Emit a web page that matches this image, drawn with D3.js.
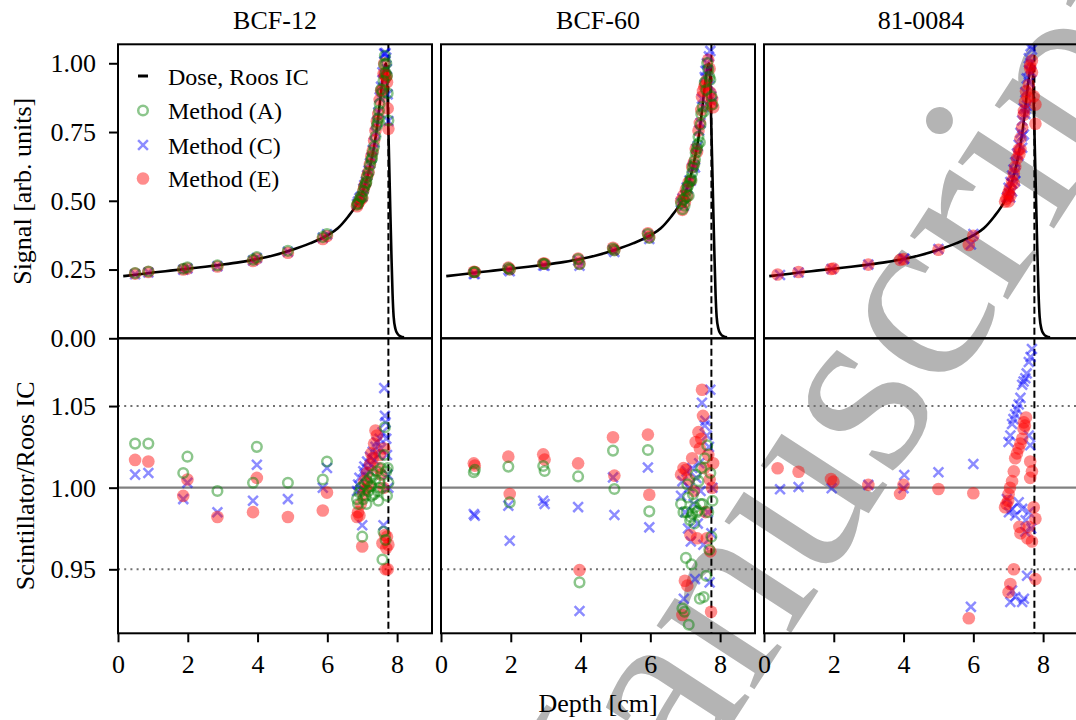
<!DOCTYPE html>
<html><head><meta charset="utf-8">
<script src="https://cdn.jsdelivr.net/npm/d3@7"></script>
<style>body{margin:0;background:#fff}svg{display:block}text{font-family:"Liberation Serif","Times New Roman",serif}</style>
</head><body><svg id="c" width="1076" height="720"></svg>
<script>
// ---------------- data ----------------
const panelTitles = ["BCF-12", "BCF-60", "81-0084"];
const legendLabels = ["Dose, Roos IC", "Method (A)", "Method (C)", "Method (E)"];
const xTicks = [0, 2, 4, 6, 8];
const topYTicks = [0, 0.25, 0.5, 0.75, 1.0];
const botYTicks = [0.95, 1.00, 1.05];
const rangeDepth = 7.75;
const xLabel = "Depth [cm]";
const topYLabel = "Signal [arb. units]";
const botYLabel = "Scintillator/Roos IC";

const doseDepth = [0.15,0.5,1.0,1.5,2.0,2.5,3.0,3.5,4.0,4.5,5.0,5.5,6.0,6.3,6.6,6.8,6.9,7.0,7.1,7.2,7.3,7.4,7.45,7.5,7.55,7.6,7.65,7.68,7.70,7.72,7.75,7.78,7.81,7.84,7.87,7.90,7.95,8.02,8.10,8.20];
const doseSignal = [0.226,0.231,0.239,0.246,0.253,0.260,0.268,0.277,0.288,0.303,0.322,0.345,0.374,0.400,0.443,0.478,0.500,0.528,0.565,0.612,0.670,0.745,0.795,0.850,0.905,0.955,0.990,1.000,0.980,0.910,0.760,0.600,0.440,0.290,0.160,0.080,0.035,0.015,0.007,0.004];

// [depth, signal, ratio]
const bcf12_A = [[0.49,0.237,1.027],[0.87,0.243,1.027],[1.87,0.253,1.009],[1.99,0.258,1.019],[2.85,0.265,0.998],[3.87,0.286,1.003],[3.98,0.295,1.025],[4.87,0.318,1.003],[5.87,0.368,1.005],[5.99,0.379,1.016],
[6.85,0.486,0.993],[6.88,0.491,0.990],[6.92,0.504,0.997],[6.96,0.516,1.000],[7.00,0.512,0.970],[7.03,0.535,0.993],[7.06,0.551,1.002],[7.10,0.562,0.995],[7.12,0.568,0.990],[7.14,0.586,1.004],[7.18,0.602,0.998],[7.22,0.628,1.006],[7.26,0.648,1.001],[7.28,0.655,0.995],[7.30,0.675,1.008],[7.34,0.697,0.996],[7.38,0.734,1.005],[7.42,0.773,1.010],[7.44,0.783,0.998],[7.46,0.800,0.992],[7.48,0.828,1.000],[7.50,0.853,1.003],[7.54,0.905,1.012],[7.58,0.894,0.956],[7.61,0.936,0.973],[7.63,0.996,1.020],[7.65,1.027,1.037],[7.67,0.965,0.968],[7.69,1.000,1.010],[7.71,0.955,0.995],[7.73,0.891,1.012],[7.75,0.792,1.003]];
const bcf12_C = [[0.49,0.233,1.008],[0.87,0.239,1.009],[1.87,0.249,0.993],[1.99,0.254,1.003],[2.85,0.262,0.985],[3.87,0.283,0.992],[3.98,0.292,1.014],[4.87,0.315,0.993],[5.87,0.366,1.000],[5.99,0.378,1.012],
[6.85,0.488,0.998],[6.88,0.497,1.002],[6.92,0.509,1.006],[6.96,0.515,0.999],[7.00,0.516,0.977],[7.03,0.544,1.010],[7.06,0.557,1.013],[7.10,0.569,1.007],[7.14,0.593,1.016],[7.18,0.610,1.011],[7.22,0.636,1.019],[7.26,0.656,1.014],[7.30,0.685,1.022],[7.34,0.712,1.017],[7.38,0.748,1.025],[7.42,0.786,1.028],[7.46,0.822,1.020],[7.50,0.876,1.030],[7.54,0.915,1.024],[7.58,0.967,1.034],[7.61,0.940,0.977],[7.63,1.036,1.061],[7.65,1.034,1.044],[7.67,1.037,1.040],[7.69,1.020,1.030],[7.71,0.979,1.020],[7.73,0.887,1.008],[7.75,0.790,1.000]];
const bcf12_E = [[0.49,0.235,1.017],[0.87,0.241,1.016],[1.87,0.250,0.995],[1.99,0.254,1.005],[2.85,0.261,0.982],[3.87,0.281,0.985],[3.98,0.290,1.006],[4.87,0.311,0.982],[5.87,0.361,0.986],[5.99,0.372,0.997],
[6.85,0.480,0.982],[6.88,0.489,0.985],[6.92,0.497,0.983],[6.96,0.511,0.990],[7.00,0.509,0.964],[7.03,0.537,0.996],[7.06,0.552,1.004],[7.10,0.564,0.999],[7.14,0.589,1.009],[7.18,0.604,1.002],[7.22,0.633,1.014],[7.26,0.661,1.021],[7.30,0.682,1.018],[7.34,0.719,1.027],[7.38,0.756,1.035],[7.42,0.789,1.032],[7.46,0.816,1.012],[7.50,0.867,1.020],[7.54,0.901,1.008],[7.58,0.903,0.966],[7.61,0.962,1.000],[7.63,0.999,1.024],[7.65,0.961,0.971],[7.67,0.947,0.950],[7.69,0.953,0.963],[7.71,0.931,0.970],[7.73,0.836,0.950],[7.75,0.762,0.965]];

const bcf60_A = [[0.94,0.240,1.0095],[0.97,0.241,1.011],[1.93,0.255,1.0129],[1.97,0.250,0.991],[2.93,0.271,1.0133],[2.97,0.270,1.0102],[3.93,0.288,1.0069],[3.97,0.269,0.942],[4.93,0.326,1.0227],[4.97,0.319,0.9992],[5.93,0.379,1.0231],[5.97,0.365,0.9855],
[6.88,0.491,0.990],[6.92,0.469,0.926],[6.95,0.505,0.985],[6.98,0.482,0.924],[7.02,0.512,0.957],[7.04,0.535,0.985],[7.06,0.551,1.002],[7.08,0.555,0.994],[7.10,0.518,0.916],[7.14,0.572,0.980],[7.16,0.582,0.982],[7.18,0.575,0.953],[7.20,0.602,0.984],[7.22,0.622,0.996],[7.26,0.633,0.978],[7.28,0.650,0.988],[7.30,0.675,1.008],[7.34,0.690,0.985],[7.36,0.705,0.986],[7.38,0.733,1.004],[7.42,0.713,0.932],[7.44,0.777,0.990],[7.46,0.816,1.012],[7.50,0.842,0.990],[7.53,0.824,0.933],[7.56,0.931,1.018],[7.60,0.903,0.946],[7.63,1.001,1.026],[7.66,0.978,0.985],[7.69,0.952,0.962],[7.72,0.940,1.009],[7.75,0.880,0.970],[7.78,0.850,0.992]];
const bcf60_C = [[0.94,0.234,0.9838],[0.97,0.234,0.9828],[1.93,0.249,0.989],[1.97,0.244,0.9675],[2.93,0.265,0.992],[2.97,0.264,0.990],[3.93,0.283,0.9881],[3.97,0.264,0.9245],[4.93,0.321,1.0063],[4.97,0.314,0.9833],[5.93,0.375,1.0124],[5.97,0.361,0.9757],
[6.88,0.494,0.995],[6.92,0.508,1.004],[6.96,0.481,0.932],[7.00,0.520,0.985],[7.04,0.548,1.010],[7.08,0.544,0.975],[7.12,0.574,1.000],[7.16,0.573,0.967],[7.20,0.619,1.012],[7.24,0.629,0.990],[7.28,0.621,0.944],[7.32,0.689,1.006],[7.36,0.699,0.978],[7.40,0.756,1.015],[7.44,0.783,0.998],[7.48,0.871,1.052],[7.52,0.841,0.965],[7.56,0.950,1.038],[7.58,0.973,1.041],[7.62,1.000,1.032],[7.65,0.975,0.985],[7.68,1.025,1.025],[7.70,0.918,0.942],[7.72,1.045,1.060],[7.75,0.880,0.972],[7.78,0.860,1.000]];
const bcf60_E = [[0.94,0.242,1.0149],[0.97,0.241,1.0135],[1.93,0.257,1.019],[1.97,0.251,0.9961],[2.93,0.272,1.0204],[2.97,0.272,1.0172],[3.93,0.290,1.0149],[3.97,0.272,0.9495],[4.93,0.329,1.0309],[4.97,0.322,1.0074],[5.93,0.382,1.0325],[5.97,0.368,0.9957],
[6.88,0.500,1.008],[6.92,0.467,0.922],[6.95,0.519,1.012],[6.99,0.495,0.943],[7.02,0.541,1.011],[7.06,0.517,0.940],[7.10,0.568,1.005],[7.15,0.572,0.971],[7.20,0.623,1.018],[7.25,0.640,0.998],[7.30,0.689,1.028],[7.34,0.678,0.969],[7.38,0.755,1.034],[7.42,0.783,1.024],[7.46,0.830,1.030],[7.48,0.878,1.060],[7.51,0.899,1.044],[7.55,0.916,1.012],[7.58,0.921,0.985],[7.62,0.939,0.969],[7.66,1.013,1.020],[7.70,0.980,1.005],[7.72,0.894,0.961],[7.74,0.850,0.924],[7.77,0.870,1.000],[7.80,0.840,1.015]];

const o84_C = [[0.46,0.230,0.999],[0.99,0.239,1.0004],[1.94,0.252,0.9996],[2.99,0.268,1.0017],[4.02,0.290,1.0078],[4.00,0.288,0.9996],[5.00,0.325,1.0094],[6.00,0.379,1.0145],[5.93,0.341,0.927],
[6.96,0.512,0.993],[7.01,0.547,1.028],[7.02,0.527,0.985],[7.06,0.568,1.032],[7.06,0.512,0.930],[7.11,0.592,1.039],[7.11,0.563,0.987],[7.11,0.534,0.937],[7.15,0.614,1.042],[7.20,0.640,1.045],[7.20,0.602,0.983],[7.20,0.571,0.933],[7.25,0.672,1.048],[7.30,0.704,1.051],[7.30,0.664,0.991],[7.35,0.747,1.055],[7.40,0.792,1.063],[7.40,0.735,0.987],[7.40,0.693,0.930],[7.44,0.836,1.065],[7.45,0.741,0.932],[7.49,0.895,1.067],[7.49,0.816,0.973],[7.50,0.833,0.980],[7.53,0.945,1.070],[7.54,0.846,0.946],[7.59,1.018,1.077],[7.59,0.975,1.032],[7.59,0.931,0.985],[7.63,1.001,1.026],[7.64,1.062,1.080],[7.66,0.968,0.975],[7.68,1.050,1.085]];
const o84_E = [[0.39,0.232,1.0119],[0.99,0.241,1.0098],[1.92,0.252,1.0053],[1.99,0.254,1.0037],[2.99,0.268,1.0017],[4.00,0.288,1.0017],[3.90,0.285,0.9962],[5.00,0.322,0.9992],[6.00,0.373,0.9966],[5.87,0.339,0.920],
[6.91,0.497,0.988],[6.95,0.508,0.990],[7.00,0.524,0.992],[7.01,0.530,0.996],[7.01,0.498,0.936],[7.05,0.547,1.000],[7.06,0.518,0.941],[7.11,0.572,1.004],[7.16,0.599,1.010],[7.16,0.563,0.950],[7.20,0.623,1.018],[7.25,0.654,1.021],[7.30,0.686,1.024],[7.32,0.669,0.976],[7.35,0.727,1.027],[7.35,0.688,0.972],[7.40,0.767,1.030],[7.44,0.813,1.036],[7.45,0.827,1.040],[7.48,0.859,1.038],[7.51,0.898,1.043],[7.55,0.877,0.969],[7.59,0.922,0.976],[7.63,0.992,1.016],[7.63,0.982,1.006],[7.68,1.010,1.010],[7.68,0.967,0.967],[7.73,0.880,0.988],[7.78,0.780,0.981],[7.78,0.850,0.944]];

// ---------------- layout ----------------
const svg = d3.select("#c");
const defs = svg.append("defs");
const panelsX = [118, 441, 764], pw = 314;
const topY = [44.3, 338.3], botY = [338.3, 633.3];
const xDomain = [0, 9.0];
const yT = d3.scaleLinear().domain([0, 1.069]).range([topY[1], topY[0]]);
const yB = d3.scaleLinear().domain([0.9108, 1.0915]).range([botY[1], botY[0]]);
const FONT = 26;
const RA = 4.8, RE = 6.3, XH = 4.9, SW = 2.5, OP = 0.45;
const XPATH = `M${-XH},${-XH}L${XH},${XH}M${-XH},${XH}L${XH},${-XH}`;
const drawOrder = ["C", "E", "A"];

// watermark (behind everything)
svg.append("text").attr("transform", "translate(1197,8) rotate(-57)")
  .attr("text-anchor", "end").attr("font-size", 254).attr("fill", "#b4b4b4")
  .text("Accepted Manuscript");

const detectors = [
  {title: panelTitles[0], A: bcf12_A, C: bcf12_C, E: bcf12_E},
  {title: panelTitles[1], A: bcf60_A, C: bcf60_C, E: bcf60_E},
  {title: panelTitles[2], A: null, C: o84_C, E: o84_E}
];

function drawMarkers(g, data, kind, x, yf) {
  if (!data) return;
  if (kind === "A") {
    g.append("g").selectAll("circle").data(data).join("circle")
      .attr("cx", d => x(d[0])).attr("cy", yf).attr("r", RA)
      .attr("fill", "none").attr("stroke", "#008000").attr("stroke-width", SW).attr("stroke-opacity", OP);
  } else if (kind === "C") {
    g.append("g").selectAll("path").data(data).join("path")
      .attr("transform", d => `translate(${x(d[0])},${yf(d)})`)
      .attr("d", XPATH)
      .attr("fill", "none").attr("stroke", "#0000ff").attr("stroke-width", SW).attr("stroke-opacity", OP);
  } else {
    g.append("g").selectAll("circle").data(data).join("circle")
      .attr("cx", d => x(d[0])).attr("cy", yf).attr("r", RE)
      .attr("fill", "#ff0000").attr("fill-opacity", OP);
  }
}

function clipGroup(id, px, yr) {
  defs.append("clipPath").attr("id", id).append("rect")
    .attr("x", px).attr("y", yr[0]).attr("width", pw).attr("height", yr[1] - yr[0]);
  return svg.append("g").attr("clip-path", `url(#${id})`);
}

function styleAxis(g) {
  g.select(".domain").remove();
  g.selectAll(".tick line").attr("stroke", "#000").attr("stroke-width", 2);
  g.selectAll(".tick text").attr("font-size", FONT).attr("fill", "#000")
    .attr("font-family", '"Liberation Serif","Times New Roman",serif');
}

detectors.forEach((det, i) => {
  const px = panelsX[i];
  const x = d3.scaleLinear().domain(xDomain).range([px, px + pw]);

  // ---- top panel ----
  const gt = clipGroup("ct" + i, px, topY);
  gt.append("path").datum(d3.zip(doseDepth, doseSignal))
    .attr("d", d3.line().x(d => x(d[0])).y(d => yT(d[1])).curve(d3.curveMonotoneX))
    .attr("fill", "none").attr("stroke", "#000").attr("stroke-width", 2.6);
  gt.append("line").attr("x1", x(rangeDepth)).attr("x2", x(rangeDepth))
    .attr("y1", topY[0]).attr("y2", topY[1])
    .attr("stroke", "#000").attr("stroke-width", 2).attr("stroke-dasharray", "7,3.5");
  drawOrder.forEach(k => drawMarkers(gt, det[k], k, x, d => yT(d[1])));

  // ---- bottom panel ----
  const gb = clipGroup("cb" + i, px, botY);
  [0.95, 1.05].forEach(v => gb.append("line").attr("x1", px).attr("x2", px + pw)
    .attr("y1", yB(v)).attr("y2", yB(v)).attr("stroke", "#707070").attr("stroke-width", 2).attr("stroke-dasharray", "2,4.2"));
  gb.append("line").attr("x1", px).attr("x2", px + pw).attr("y1", yB(1)).attr("y2", yB(1))
    .attr("stroke", "#808080").attr("stroke-width", 2.2);
  gb.append("line").attr("x1", x(rangeDepth)).attr("x2", x(rangeDepth))
    .attr("y1", botY[0]).attr("y2", botY[1])
    .attr("stroke", "#000").attr("stroke-width", 2).attr("stroke-dasharray", "7,3.5");
  drawOrder.forEach(k => drawMarkers(gb, det[k], k, x, d => yB(d[2])));

  // spines
  [topY, botY].forEach(yr => svg.append("rect").attr("x", px).attr("y", yr[0])
    .attr("width", pw).attr("height", yr[1] - yr[0])
    .attr("fill", "none").attr("stroke", "#000").attr("stroke-width", 2));

  // x axis
  const ax = svg.append("g").attr("transform", `translate(0,${botY[1]})`)
    .call(d3.axisBottom(x).tickValues(xTicks).tickFormat(d3.format("d")).tickSize(9).tickPadding(12));
  styleAxis(ax);

  // title
  svg.append("text").attr("x", px + pw / 2).attr("y", 29).attr("text-anchor", "middle")
    .attr("font-size", FONT).text(det.title);

  if (i === 0) {
    const ayt = svg.append("g").attr("transform", `translate(${px},0)`)
      .call(d3.axisLeft(yT).tickValues(topYTicks).tickFormat(d3.format(".2f")).tickSize(9).tickPadding(13));
    styleAxis(ayt);
    const ayb = svg.append("g").attr("transform", `translate(${px},0)`)
      .call(d3.axisLeft(yB).tickValues(botYTicks).tickFormat(d3.format(".2f")).tickSize(9).tickPadding(13));
    styleAxis(ayb);

    // legend
    const lg = svg.append("g");
    const lx = 143, tx = 168, rows = [76, 110.5, 145, 178.5];
    lg.append("line").attr("x1", lx - 5).attr("x2", lx + 5).attr("y1", rows[0]).attr("y2", rows[0])
      .attr("stroke", "#000").attr("stroke-width", 3);
    lg.append("circle").attr("cx", lx).attr("cy", rows[1]).attr("r", RA)
      .attr("fill", "none").attr("stroke", "#008000").attr("stroke-width", SW).attr("stroke-opacity", OP);
    lg.append("path").attr("transform", `translate(${lx},${rows[2]})`).attr("d", XPATH)
      .attr("stroke", "#0000ff").attr("stroke-width", SW).attr("stroke-opacity", OP);
    lg.append("circle").attr("cx", lx).attr("cy", rows[3]).attr("r", RE)
      .attr("fill", "#ff0000").attr("fill-opacity", OP);
    legendLabels.forEach((t, j) => lg.append("text").attr("x", tx).attr("y", rows[j] + 8.5)
      .attr("font-size", 24).text(t));
  }
});

// axis labels
svg.append("text").attr("transform", `translate(31,${(topY[0] + topY[1]) / 2}) rotate(-90)`)
  .attr("text-anchor", "middle").attr("font-size", FONT).text(topYLabel);
svg.append("text").attr("transform", `translate(34,${(botY[0] + botY[1]) / 2}) rotate(-90)`)
  .attr("text-anchor", "middle").attr("font-size", FONT).text(botYLabel);
svg.append("text").attr("x", 598).attr("y", 712).attr("text-anchor", "middle")
  .attr("font-size", FONT).text(xLabel);
</script></body></html>
